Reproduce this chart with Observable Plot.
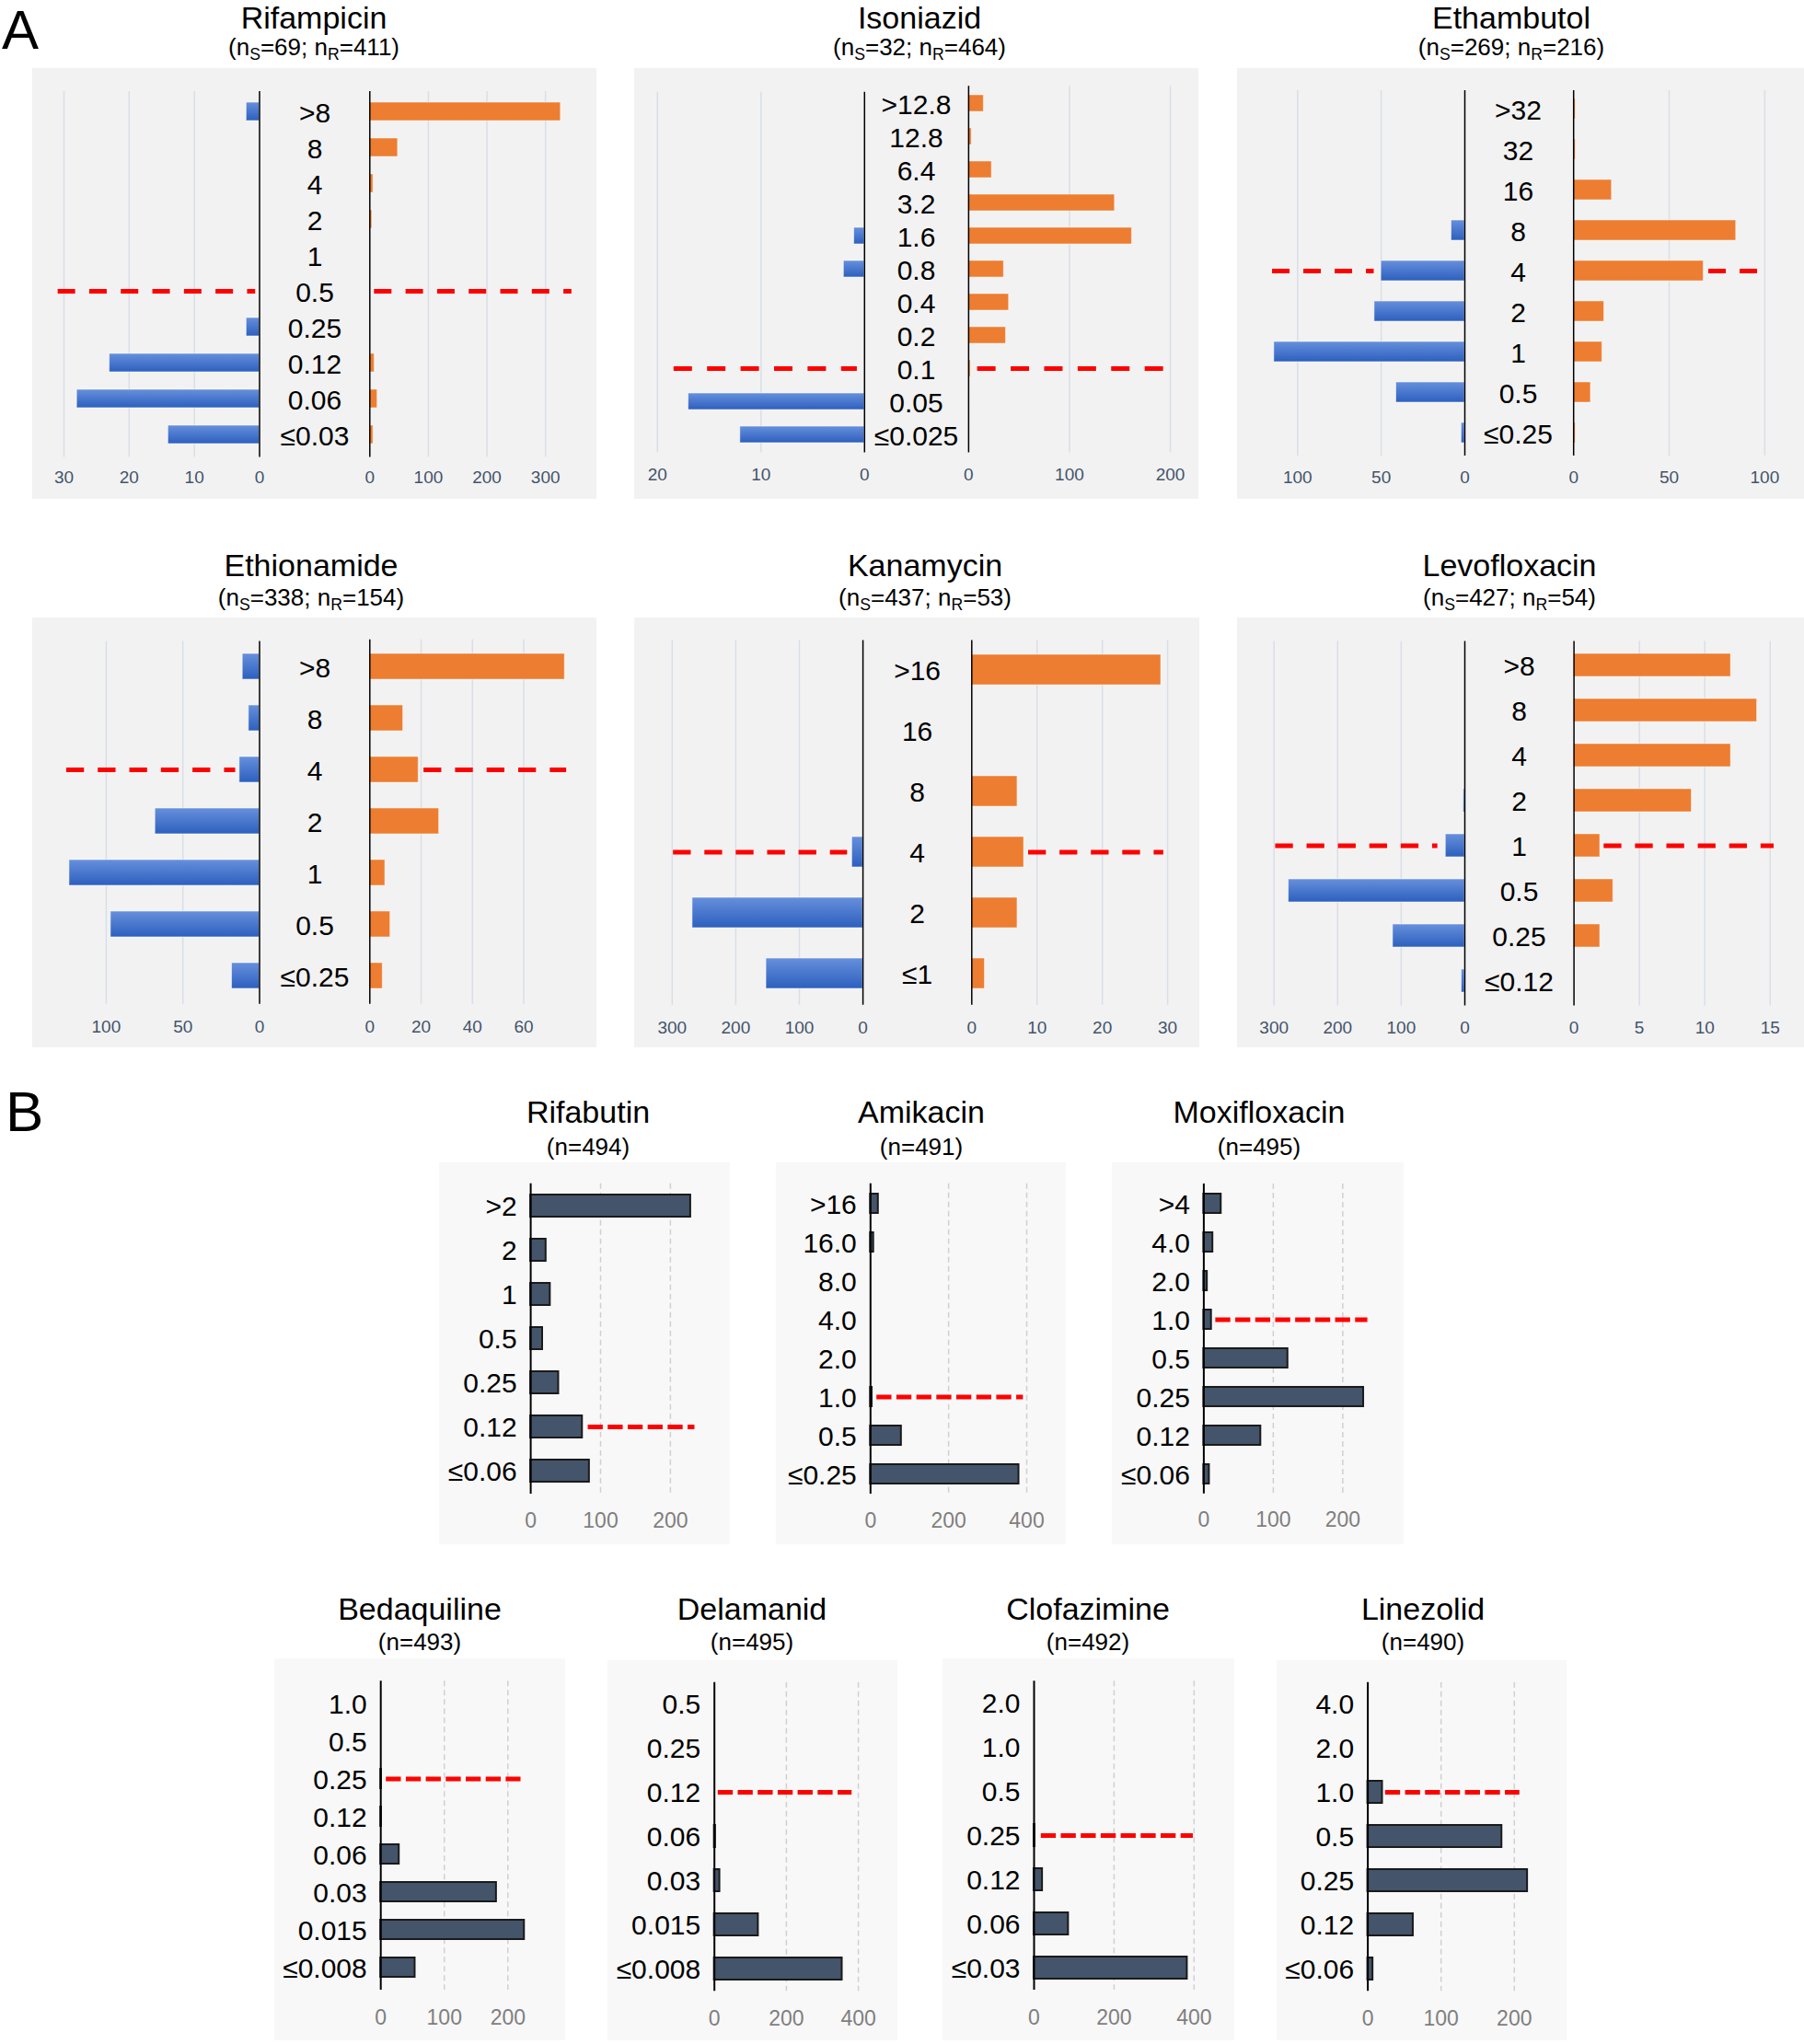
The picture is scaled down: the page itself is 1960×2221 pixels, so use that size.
<!DOCTYPE html>
<html><head><meta charset="utf-8">
<script src="https://cdn.jsdelivr.net/npm/d3@7"></script>
<script src="https://cdn.jsdelivr.net/npm/@observablehq/plot@0.6"></script>
<style>
body{margin:0;background:#fff;}
#page{position:relative;width:1960px;height:2221px;overflow:hidden;font-family:"Liberation Sans",Arial,Helvetica,sans-serif;background:#fff;}
.t{position:absolute;white-space:nowrap;line-height:1;transform:translateX(-50%);color:#000;}
.t sub{font-size:0.68em;vertical-align:-0.3em;line-height:0;}
.lab{position:absolute;line-height:1;color:#000;}
.panel{position:absolute;}
.panel svg{position:absolute;left:0;top:0;}
</style></head>
<body>
<svg width="0" height="0" style="position:absolute">
  <defs>
    <linearGradient id="gBlue" x1="0" y1="0" x2="0" y2="1">
      <stop offset="0" stop-color="#6790dc"/>
      <stop offset="1" stop-color="#2c5fbe"/>
    </linearGradient>
  </defs>
</svg>
<div id="page"></div>
<script>
// ---------------- DATA: panel A (susceptible vs resistant) ----------------
const drugsA = ["Rifampicin", "Isoniazid", "Ethambutol", "Ethionamide", "Kanamycin", "Levofloxacin"];
const nS = [69, 32, 269, 338, 437, 427];
const nR = [411, 464, 216, 154, 53, 54];
const micA = [
  [">8", "8", "4", "2", "1", "0.5", "0.25", "0.12", "0.06", "≤0.03"],
  [">12.8", "12.8", "6.4", "3.2", "1.6", "0.8", "0.4", "0.2", "0.1", "0.05", "≤0.025"],
  [">32", "32", "16", "8", "4", "2", "1", "0.5", "≤0.25"],
  [">8", "8", "4", "2", "1", "0.5", "≤0.25"],
  [">16", "16", "8", "4", "2", "≤1"],
  [">8", "8", "4", "2", "1", "0.5", "0.25", "≤0.12"]
];
const susA = [
  [2, 0, 0, 0, 0, 0, 2, 23, 28, 14],
  [0, 0, 0, 0, 1, 2, 0, 0, 0, 17, 12],
  [0, 0, 0, 8, 50, 54, 114, 41, 2],
  [11, 7, 13, 68, 124, 97, 18],
  [0, 0, 0, 17, 268, 152],
  [0, 0, 0, 2, 30, 277, 113, 5]
];
const resA = [
  [326, 48, 6, 4, 0, 0, 0, 8, 13, 6],
  [15, 3, 23, 145, 162, 35, 40, 37, 2, 1, 1],
  [1, 1, 20, 85, 68, 16, 15, 9, 1],
  [76, 13, 19, 27, 6, 8, 5],
  [29, 0, 7, 8, 7, 2],
  [12, 14, 12, 9, 2, 3, 2, 0]
];
const ticksSA = [[0, 10, 20, 30], [0, 10, 20], [0, 50, 100], [0, 50, 100], [0, 100, 200, 300], [0, 100, 200, 300]];
const ticksRA = [[0, 100, 200, 300], [0, 100, 200], [0, 50, 100], [0, 20, 40, 60], [0, 10, 20, 30], [0, 5, 10, 15]];
const bpA = ["0.5", "0.1", "4", "4", "4", "1"];
// breakpoint reference line extents, in counts (start, end)
const cutSA = [[30.9, 0.6], [18.4, 0.7], [115, 54.2], [125.8, 15.6], [298, 24.3], [297.5, 42.5]];
const cutRA = [[7.9, 345], [8.9, 194], [70.7, 96.3], [21.1, 76.7], [8.7, 29.4], [2.3, 15.3]];

// ---------------- DATA: panel B (all isolates) ----------------
const drugsB = ["Rifabutin", "Amikacin", "Moxifloxacin", "Bedaquiline", "Delamanid", "Clofazimine", "Linezolid"];
const nB = [494, 491, 495, 493, 495, 492, 490];
const micB = [
  [">2", "2", "1", "0.5", "0.25", "0.12", "≤0.06"],
  [">16", "16.0", "8.0", "4.0", "2.0", "1.0", "0.5", "≤0.25"],
  [">4", "4.0", "2.0", "1.0", "0.5", "0.25", "0.12", "≤0.06"],
  ["1.0", "0.5", "0.25", "0.12", "0.06", "0.03", "0.015", "≤0.008"],
  ["0.5", "0.25", "0.12", "0.06", "0.03", "0.015", "≤0.008"],
  ["2.0", "1.0", "0.5", "0.25", "0.12", "0.06", "≤0.03"],
  ["4.0", "2.0", "1.0", "0.5", "0.25", "0.12", "≤0.06"]
];
const countB = [
  [229, 22, 28, 17, 40, 74, 84],
  [20, 8, 0, 0, 0, 4, 79, 380],
  [25, 13, 5, 11, 121, 230, 82, 8],
  [0, 0, 1, 1, 29, 182, 226, 54],
  [0, 0, 0, 3, 15, 122, 355],
  [0, 0, 0, 2, 21, 86, 383],
  [0, 0, 20, 183, 218, 62, 7]
];
const ticksB = [[0, 100, 200], [0, 200, 400], [0, 100, 200], [0, 100, 200], [0, 200, 400], [0, 200, 400], [0, 100, 200]];
const bpB = ["0.12", "1.0", "1.0", "0.25", "0.12", "0.25", "1.0"];
const cutB = [[82.3, 235], [16.3, 391.4], [17.2, 236], [8.7, 220.6], [10.5, 382.4], [18, 398], [24.2, 207.5]];

// ---------------- LAYOUT (page pixels, styles) ----------------
const layA = [
  {bg:[34.5,73.5,647.6,542], tc:341, tb:30.5, sb:60, zL:281, kL:7.083, zR:400.8, kR:0.6364, r0:118, rN:473.5, gT:98.6, gTR:98.6, gB:496, tY:517, cx:341, dash:"19,15.3"},
  {bg:[689,73.5,1302,542], tc:999, tb:30.5, sb:60, zL:938.8, kL:11.25, zR:1051.9, kR:1.0955, r0:110.5, rN:471.5, gT:99.3, gTR:92.7, gB:491, tY:514.3, cx:995, dash:"20,16.4"},
  {bg:[1344,73.5,1960,542], tc:1642, tb:30.5, sb:60, zL:1591, kL:1.817, zR:1709.2, kR:2.077, r0:117.5, rN:469.8, gT:97.5, gTR:97.5, gB:494.6, tY:517, cx:1649, dash:"19,15"},
  {bg:[34.5,671,647.6,1138], tc:338, tb:626, sb:658, zL:281, kL:1.666, zR:400.8, kR:2.788, r0:722.2, rN:1061.5, gT:696.5, gTR:694.7, gB:1090.7, tY:1114.4, cx:341, dash:"19.3,15"},
  {bg:[689.4,671,1303.4,1138], tc:1005, tb:626, sb:658, zL:937.5, kL:0.691, zR:1055.7, kR:7.093, r0:727.5, rN:1058.3, gT:695.4, gTR:695.4, gB:1091.8, tY:1115.5, cx:996.5, dash:"19.3,14.8"},
  {bg:[1344,671,1960,1138], tc:1640, tb:626, sb:658, zL:1591, kL:0.691, zR:1709.6, kR:14.21, r0:720.4, rN:1067.7, gT:696.5, gTR:696.5, gB:1092.5, tY:1115.5, cx:1650, dash:"19.3,14.8"}
];
const layB = [
  {bg:[477.4,1263.3,793.5,1678.3], tc:639, tb:1220, sb:1255, z:576.5, k:0.759, r0:1310, rN:1599, gT:1286, gB:1623.3, tY:1651.3},
  {bg:[843,1263.3,1158,1678.3], tc:1001, tb:1220, sb:1255, z:945.3, k:0.4243, r0:1307.3, rN:1601.7, gT:1286, gB:1623.3, tY:1651.3},
  {bg:[1208.3,1263,1525,1678], tc:1368, tb:1220, sb:1255, z:1307.7, k:0.755, r0:1306.7, rN:1601.7, gT:1286, gB:1622.7, tY:1650.8},
  {bg:[298.3,1801.7,613.8,2217], tc:456, tb:1760, sb:1793, z:413.5, k:0.6905, r0:1846.7, rN:2140.7, gT:1826, gB:2161.7, tY:2190.7},
  {bg:[659.5,1804,975,2217], tc:817, tb:1760, sb:1793, z:775.2, k:0.391, r0:1851, rN:2140, gT:1827.7, gB:2163.3, tY:2192.5},
  {bg:[1023.9,1801.7,1340.8,2217], tc:1182, tb:1760, sb:1793, z:1122.9, k:0.4346, r0:1850, rN:2138.3, gT:1826, gB:2161.7, tY:2190.7},
  {bg:[1386.7,1804,1701.8,2217], tc:1546, tb:1760, sb:1793, z:1485.3, k:0.796, r0:1851, rN:2140, gT:1827.7, gB:2163.3, tY:2192.5}
];

const FONT = "'Liberation Sans', Arial, Helvetica, sans-serif";
const page = document.getElementById("page");

function addText(html, cx, baseline, fs) {
  const d = document.createElement("div");
  d.className = "t";
  d.style.left = cx + "px";
  d.style.top = (baseline - 0.8465 * fs) + "px";
  d.style.fontSize = fs + "px";
  d.innerHTML = html;
  page.appendChild(d);
}
function addLetter(txt, left, baseline, fs) {
  const d = document.createElement("div");
  d.className = "lab";
  d.style.left = left + "px";
  d.style.top = (baseline - 0.8465 * fs) + "px";
  d.style.fontSize = fs + "px";
  d.textContent = txt;
  page.appendChild(d);
}
function addPanel(bg, color) {
  const d = document.createElement("div");
  d.className = "panel";
  d.style.left = bg[0] + "px";
  d.style.top = bg[1] + "px";
  d.style.width = (bg[2] - bg[0]) + "px";
  d.style.height = (bg[3] - bg[1]) + "px";
  d.style.background = color;
  page.appendChild(d);
  return d;
}

function halfPlot(o) {
  const bg = o.bg;
  const W = bg[2] - bg[0], H = bg[3] - bg[1];
  const z = o.zero - bg[0];
  const left = o.side === "left";
  const ext = left ? z : W - z;
  const D = ext / o.k;
  const n = o.cats.length;
  const step = (o.rN - o.r0) / (n - 1);
  // frame = band range, so the rows land on the measured centres
  const yTop = o.r0 - bg[1] - step / 2, yBot = o.rN - bg[1] + step / 2;
  const insTop = (o.gT - bg[1]) - yTop, insBot = yBot - (o.gB - bg[1]);
  const rows = o.cats.map((c, i) => ({mic: c, count: o.vals[i]})).filter(d => d.count > 0);
  const marks = [
    Plot.ruleX(o.ticks.filter(t => t > 0), {stroke: o.grid.color, strokeWidth: o.grid.width, strokeDasharray: o.grid.dash, insetTop: insTop, insetBottom: insBot}),
    Plot.barX(rows, {x: "count", y: "mic", fill: o.bar.fill, stroke: o.bar.stroke, strokeWidth: o.bar.sw, strokeOpacity: o.bar.so}),
    Plot.ruleY([o.bp], {x1: o.cut[0], x2: o.cut[1], stroke: "#ff0000", strokeWidth: 5, strokeDasharray: o.dash}),
    Plot.ruleX([0], {stroke: "#000", strokeWidth: o.axisW, insetTop: insTop, insetBottom: insBot}),
    Plot.axisX({ticks: o.ticks, tickSize: 0, tickPadding: (o.tY - bg[1]) - yBot - 0.36 * o.tickFs, tickFormat: d => String(d), fontSize: o.tickFs, color: o.tickColor, label: null})
  ];
  if (o.labels) {
    marks.push(Plot.axisY({anchor: o.labels.anchor, tickSize: 0, tickPadding: o.labels.pad, textAnchor: o.labels.textAnchor, dy: o.labels.dy, fontSize: 30, color: "#000", label: null}));
  }
  return Plot.plot({
    width: W, height: H,
    marginTop: yTop, marginBottom: H - yBot,
    marginLeft: left ? 0 : z, marginRight: left ? W - z : 0,
    x: {domain: [0, D], range: left ? [z, 0] : [z, W]},
    y: {domain: o.cats, paddingInner: 0.5, paddingOuter: 0.25, axis: o.labels ? undefined : null},
    style: {fontFamily: FONT, background: "transparent", overflow: "visible"},
    marks
  });
}

// Letters
addLetter("A", 2, 54, 60);
addLetter("B", 6, 1229, 62);

// Panel A
drugsA.forEach((drug, i) => {
  const L = layA[i];
  const panel = addPanel(L.bg, "#f2f2f2");
  addText(drug, L.tc, L.tb, 34);
  addText(`(n<sub>S</sub>=${nS[i]}; n<sub>R</sub>=${nR[i]})`, L.tc, L.sb, 26);
  const common = {bg: L.bg, cats: micA[i], gB: L.gB, tY: L.tY, r0: L.r0, rN: L.rN, bp: bpA[i],
    grid: {color: "#d9dee7", width: 1.5, dash: null}, axisW: 1.5, tickFs: 19, tickColor: "#44546a", dash: L.dash};
  panel.appendChild(halfPlot({...common, side: "left", gT: L.gT, zero: L.zL, k: L.kL, vals: susA[i], ticks: ticksSA[i], cut: cutSA[i],
    bar: {fill: "url(#gBlue)", stroke: "#ffffff", sw: 1, so: 0.55},
    labels: {anchor: "right", pad: L.cx - L.zL, textAnchor: "middle", dy: 1.5}}));
  panel.appendChild(halfPlot({...common, side: "right", gT: L.gTR, zero: L.zR, k: L.kR, vals: resA[i], ticks: ticksRA[i], cut: cutRA[i],
    bar: {fill: "#ed7d31", stroke: "#ffffff", sw: 1, so: 0.45}}));
});

// Panel B
drugsB.forEach((drug, i) => {
  const L = layB[i];
  const panel = addPanel(L.bg, "#f8f8f8");
  addText(drug, L.tc, L.tb, 34);
  addText(`(n=${nB[i]})`, L.tc, L.sb, 26);
  panel.appendChild(halfPlot({bg: L.bg, cats: micB[i], gT: L.gT, gB: L.gB, tY: L.tY, r0: L.r0, rN: L.rN, bp: bpB[i],
    side: "right", zero: L.z, k: L.k, vals: countB[i], ticks: ticksB[i], cut: cutB[i],
    grid: {color: "#d0d0d0", width: 1.5, dash: "6,4"}, axisW: 2, tickFs: 23, tickColor: "#7f7f7f", dash: "16.3,5.4",
    bar: {fill: "#44546a", stroke: "#1a1a1a", sw: 2, so: 1},
    labels: {anchor: "left", pad: 15, textAnchor: "end", dy: 1}}));
});
</script>
</body></html>
